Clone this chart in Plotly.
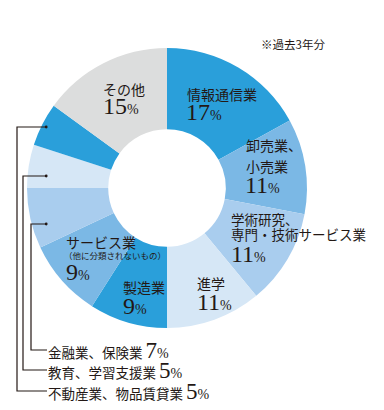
import plotly.graph_objects as go

W, H = 384, 410

categories = ["情報通信業", "卸売業、小売業", "学術研究、専門・技術サービス業", "進学",
              "製造業", "サービス業（他に分類されないもの）", "金融業、保険業",
              "教育、学習支援業", "不動産業、物品賃貸業", "その他"]
values = [17, 11, 11, 11, 9, 9, 7, 5, 5, 15]
colors = ["#2a9fda", "#7bb8e5", "#a9cdee", "#d6e7f6", "#2a9fda",
          "#7bb8e5", "#a9cdee", "#d6e7f6", "#2a9fda", "#dcdddd"]
note = "※過去3年分"

cx, cy, r = 167, 188, 140


def px(x):
    return x / W


def py(y):
    return 1 - y / H


fig = go.Figure(go.Pie(
    labels=categories, values=values, sort=False, direction="clockwise",
    rotation=0, hole=0.42, textinfo="none", hoverinfo="label+percent",
    marker=dict(colors=colors, line=dict(width=0)),
    domain=dict(x=[px(cx - r), px(cx + r)], y=[py(cy + r), py(cy - r)]),
    showlegend=False,
))

JP = "Noto Sans CJK JP"
NUM = "Liberation Serif"
ann = []


def txt(x, y, s, size=13.5, family=JP):
    ann.append(dict(x=px(x), y=py(y), xref="paper", yref="paper", text=s,
                    showarrow=False, xanchor="left", yanchor="middle",
                    font=dict(family=family, size=size, color="#231815")))


def pct(v):
    return f"{v}<span style='font-size:14px'>%</span>"


txt(185, 94, "情報通信業", 14)
txt(184, 112, pct(values[0]), 24, NUM)
txt(244, 145, "卸売業、", 14)
txt(244, 166, "小売業", 14)
txt(243, 185, pct(values[1]), 24, NUM)
txt(229, 219, "学術研究、")
txt(229, 234, "専門・技術サービス業")
txt(229, 254, pct(values[2]), 24, NUM)
txt(195, 283, "進学", 14)
txt(195, 302, pct(values[3]), 24, NUM)
txt(121, 287, "製造業", 14)
txt(121, 306, pct(values[4]), 24, NUM)
txt(64, 242, "サービス業", 14)
txt(62, 255, "（他に分類されないもの）", 8.5)
txt(64, 272, pct(values[5]), 24, NUM)
txt(101, 89, "その他", 14)
txt(101, 106, pct(values[9]), 24, NUM)
txt(259, 44, note, 11.5)

# outside labels with leader lines
outs = [(6, 224, 31, 350), (7, 176, 23, 370), (8, 127, 17, 391)]
shapes = []
for idx, ly, vx, ty in outs:
    txt(46, ty, f"{categories[idx]} " + f"<span style='font-family:{NUM};font-size:23px'>{values[idx]}</span>"
        + f"<span style='font-family:{NUM};font-size:14px'>%</span>")
    path = f"M {px(46)} {py(ly)} L {px(vx)} {py(ly)} L {px(vx)} {py(ty)} L {px(47)} {py(ty)}"
    shapes.append(dict(type="path", xref="paper", yref="paper", path=path,
                       line=dict(color="#231815", width=1.2)))
    shapes.append(dict(type="circle", xref="paper", yref="paper",
                       x0=px(44.8), x1=px(47.6), y0=py(ly + 1.4), y1=py(ly - 1.4),
                       fillcolor="#231815", line=dict(width=0)))

fig.update_layout(width=W, height=H, margin=dict(l=0, r=0, t=0, b=0),
                  paper_bgcolor="white", plot_bgcolor="white",
                  annotations=ann, shapes=shapes)
fig.write_html("out.html", config={"displayModeBar": False},
               post_script="document.body.style.margin='0';document.body.style.padding='0';")
